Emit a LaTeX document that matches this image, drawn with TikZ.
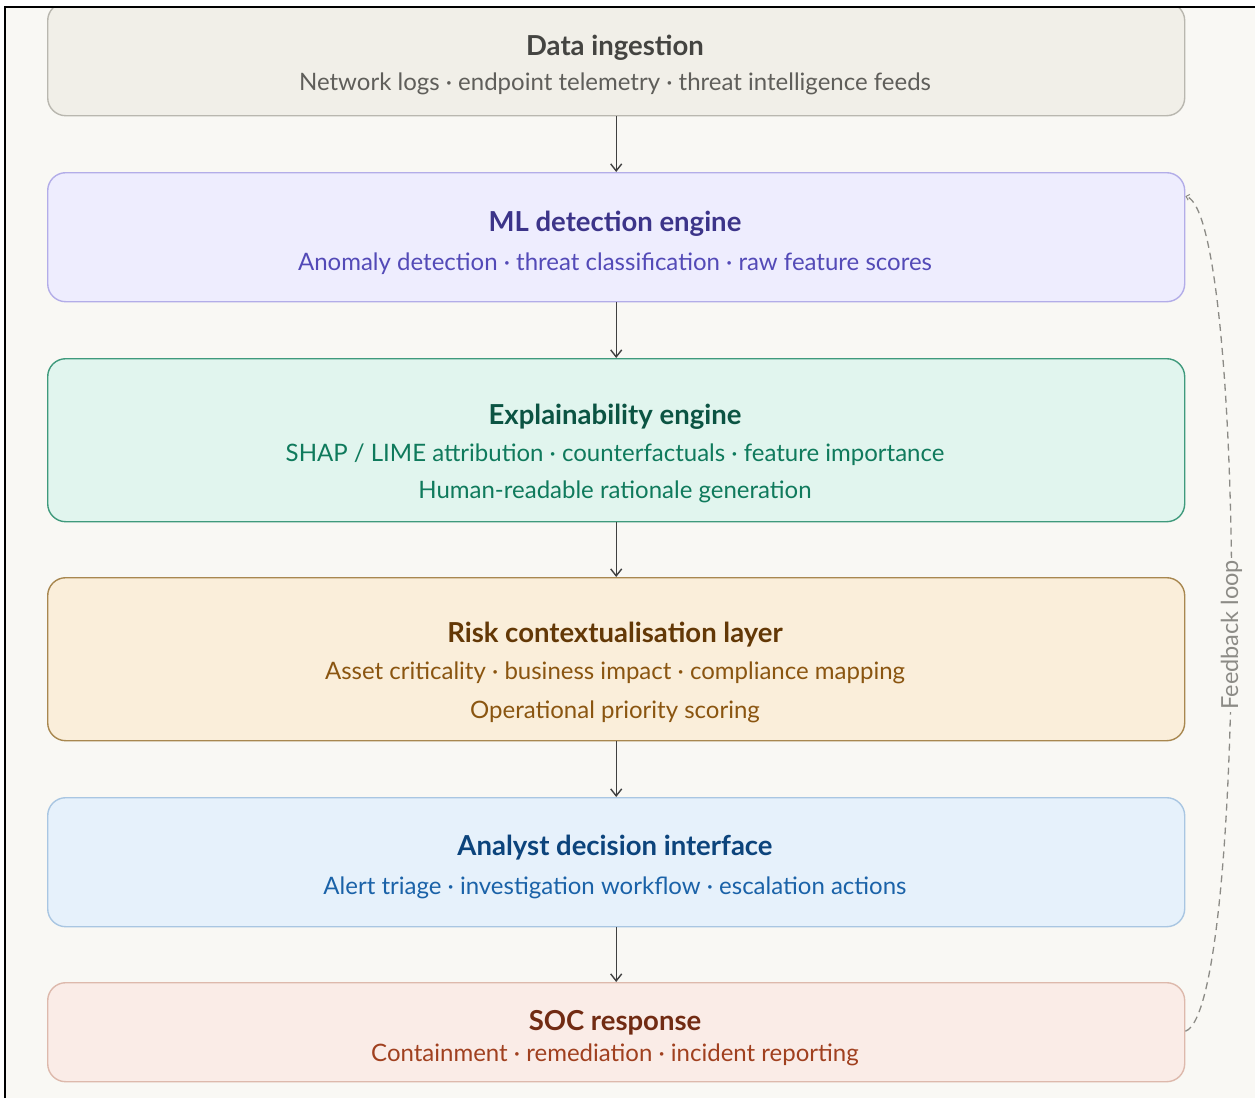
\documentclass[tikz,border=0pt]{standalone}
\usepackage{fontspec}
\setmainfont{Lato}
\usetikzlibrary{arrows.meta}
\definecolor{bg}{HTML}{F9F8F4}
\definecolor{fA}{HTML}{F1EFE8}\definecolor{dA}{HTML}{B9B7AF}\definecolor{tA}{HTML}{444441}\definecolor{sA}{HTML}{5F5E5A}
\definecolor{fB}{HTML}{EEEDFE}\definecolor{dB}{HTML}{B3ADE8}\definecolor{tB}{HTML}{3C3489}\definecolor{sB}{HTML}{534AB7}
\definecolor{fC}{HTML}{E1F5EE}\definecolor{dC}{HTML}{3F9A7C}\definecolor{tC}{HTML}{0B5443}\definecolor{sC}{HTML}{0F7A5C}
\definecolor{fD}{HTML}{FAEEDA}\definecolor{dD}{HTML}{A8874F}\definecolor{tD}{HTML}{633806}\definecolor{sD}{HTML}{8A5510}
\definecolor{fE}{HTML}{E6F1FB}\definecolor{dE}{HTML}{A9C6E2}\definecolor{tE}{HTML}{0C447C}\definecolor{sE}{HTML}{1A62A8}
\definecolor{fF}{HTML}{FAECE7}\definecolor{dF}{HTML}{DDB9AC}\definecolor{tF}{HTML}{712B13}\definecolor{sF}{HTML}{A0401F}
\definecolor{loopc}{HTML}{8C8B86}
\begin{document}
\begin{tikzpicture}[x=1pt,y=-1pt,
  layerbox/.style={draw, rounded corners=18pt, line width=1.4pt},
  ttl/.style={font=\fontsize{27.5}{32}\selectfont\bfseries, inner sep=0pt},
  sub/.style={font=\fontsize{24}{28}\selectfont, inner sep=0pt},
  flow/.style={draw=black!75, line width=1.4pt, -{Straight Barb[length=7pt,width=11pt,line width=1.4pt]}},
]
\useasboundingbox (0,0) rectangle (1255,1098);
\fill[bg] (6,8) rectangle (1255,1098);
\begin{scope}
\clip (6,8) rectangle (1255,1098);
\node[layerbox, fill=fA, draw=dA, minimum width=1137pt, minimum height=113pt, anchor=north west] (b1) at (47,2) {};
\end{scope}
\node[layerbox, fill=fB, draw=dB, minimum width=1137pt, minimum height=129pt, anchor=north west] (b2) at (47,172) {};
\node[layerbox, fill=fC, draw=dC, minimum width=1137pt, minimum height=163pt, anchor=north west] (b3) at (47,358) {};
\node[layerbox, fill=fD, draw=dD, minimum width=1137pt, minimum height=163pt, anchor=north west] (b4) at (47,577) {};
\node[layerbox, fill=fE, draw=dE, minimum width=1137pt, minimum height=129pt, anchor=north west] (b5) at (47,797) {};
\node[layerbox, fill=fF, draw=dF, minimum width=1137pt, minimum height=99pt, anchor=north west] (b6) at (47,982) {};

\draw[black, line width=2pt] (5,1098) -- (5,7) -- (1255,7);

\node[ttl, text=tA] (t1) at (615,48) {Data ingestion};
\node[sub, text=sA] (s1) at (615,84) {Network logs · endpoint telemetry · threat intelligence feeds};

\node[ttl, text=tB] (t2) at (615,224) {ML detection engine};
\node[sub, text=sB] (s2) at (615,264) {Anomaly detection · threat classification · raw feature scores};

\node[ttl, text=tC] (t3) at (615,417) {Explainability engine};
\node[sub, text=sC] (s3) at (615,455) {SHAP / LIME attribution · counterfactuals · feature importance};
\node[sub, text=sC] (s3b) at (615,492) {Human-readable rationale generation};

\node[ttl, text=tD] (t4) at (615,635) {Risk contextualisation layer};
\node[sub, text=sD] (s4) at (615,673) {Asset criticality · business impact · compliance mapping};
\node[sub, text=sD] (s4b) at (615,712) {Operational priority scoring};

\node[ttl, text=tE] (t5) at (615,848) {Analyst decision interface};
\node[sub, text=sE] (s5) at (615,888) {Alert triage · investigation workflow · escalation actions};

\node[ttl, text=tF] (t6) at (615,1023) {SOC response};
\node[sub, text=sF] (s6) at (615,1055) {Containment · remediation · incident reporting};

\draw[flow] (b1.south) -- (b2.north);
\draw[flow] (b2.south) -- (b3.north);
\draw[flow] (b3.south) -- (b4.north);
\draw[flow] (b4.south) -- (b5.north);
\draw[flow] (b5.south) -- (b6.north);

\coordinate (fbs) at ([yshift=1pt]b6.east);
\coordinate (fbe) at ([yshift=41pt]b2.east);
\draw[loopc, line width=1.3pt, dash pattern=on 7pt off 5pt, -{Straight Barb[length=3pt,width=6pt,line width=1pt]}]
  (fbs) .. controls (1247,1010) and (1247,215) .. (fbe)
  node[pos=0.482, rotate=90, fill=bg, text=loopc, inner sep=2pt, font=\fontsize{23.5}{26}\selectfont] (fbl) {Feedback loop};
\end{tikzpicture}
\end{document}
